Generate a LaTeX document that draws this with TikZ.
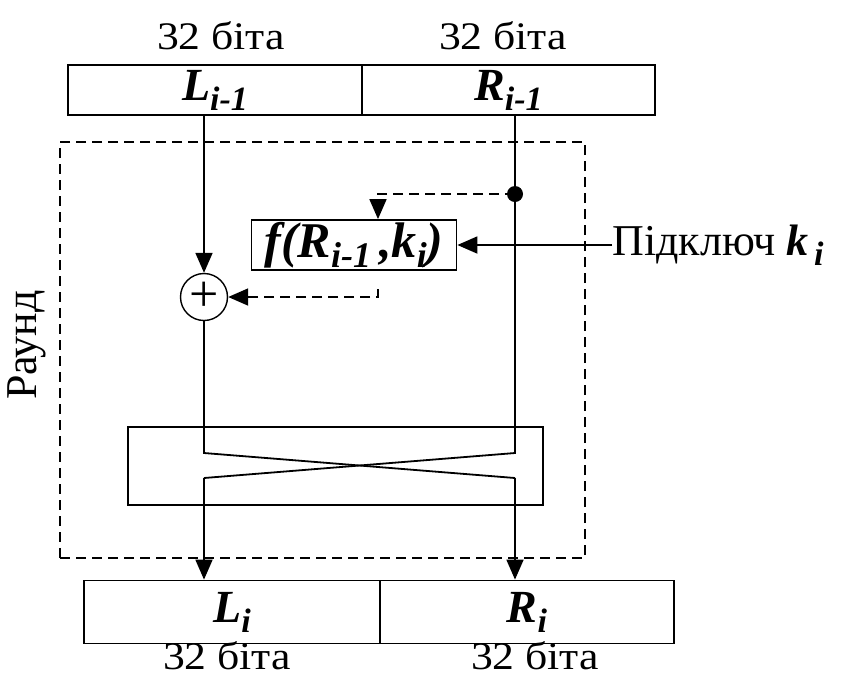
\documentclass[tikz,border=0pt]{standalone}
\usepackage{fontspec}
\setmainfont{Liberation Serif}
\newfontfamily\widefont[FakeStretch=1.12]{Liberation Serif}
\usetikzlibrary{arrows.meta,positioning}

\newcommand{\bsym}[2]{\textbf{\textit{#1\raisebox{-5pt}{\fontsize{17}{20}\selectfont #2}}}}

\begin{document}
\begin{tikzpicture}[
    x=0.5pt, y=-0.5pt,
    font=\fontsize{20}{24}\selectfont,
    lbl/.style={font=\fontsize{22}{26}\selectfont, inner sep=0pt},
    bits/.style={font=\widefont\fontsize{19.5}{24}\selectfont, inner sep=0pt, anchor=base},
    cell/.style={rectangle, draw, line width=0.9pt, inner sep=0pt,
                 font=\fontsize{23}{26}\selectfont},
    wire/.style={line width=0.9pt},
    line/.style={-{Triangle[length=10pt, width=8.5pt]}, line width=0.9pt},
    dline/.style={line, dashed, dash pattern=on 5pt off 3pt}
]
  \useasboundingbox (0,0) rectangle (841,677);

  % round frame
  \node[draw, dashed, dash pattern=on 5pt off 3pt, line width=0.7pt,
        minimum width=262.5pt, minimum height=208pt] (round) at (322.5,350) {};
  \node[lbl, rotate=90] (roundlbl) at (27,345) {Раунд};

  % input halves
  \node[cell, minimum width=147pt, minimum height=25pt] (Lprev) at (215,90) {\bsym{L}{i-1}};
  \node[cell, minimum width=146.5pt, minimum height=25pt] (Rprev) at (508.5,90) {\bsym{R}{i-1}};
  \node[bits] (bitsLt) at (221,49) {32 біта};
  \node[bits] (bitsRt) at (503,49) {32 біта};

  % output halves
  \node[cell, minimum width=148pt, minimum height=31.5pt] (Lnext) at (232,612) {\bsym{L}{i}};
  \node[cell, minimum width=147pt, minimum height=31.5pt] (Rnext) at (527,612) {\bsym{R}{i}};
  \node[bits] (bitsLb) at (227,669) {32 біта};
  \node[bits] (bitsRb) at (535,669) {32 біта};

  % round function and xor
  \node[cell, minimum width=102.5pt, minimum height=25pt,
        font=\fontsize{25}{28}\selectfont] (fbox) at (354,245)
       {\textbf{\textit{f(R\raisebox{-5pt}{\fontsize{18}{20}\selectfont i-1}\,,k\raisebox{-5pt}{\fontsize{18}{20}\selectfont i})}}};
  \node[circle, draw, line width=0.7pt, minimum size=23.5pt, inner sep=0pt,
        font=\fontsize{26}{28}\selectfont] (xor) at (204,297) {+};
  \node[anchor=west, lbl] (key) at (612,245) {Підключ \bsym{k}{\,i}};

  % swap block
  \node[draw, line width=0.7pt, minimum width=207.5pt, minimum height=39pt] (swap) at (335.5,466) {};

  \coordinate (split) at (515,194);
  \coordinate (tap) at (378,194);
  \coordinate (fout) at (378,289);
  \coordinate (xl1) at (204,453);
  \coordinate (xl2) at (204,478);
  \coordinate (xr1) at (515,453);
  \coordinate (xr2) at (515,478);

  \draw[line] (xor.north |- Lprev.south) -- (xor.north);
  \draw[wire] (split |- Rprev.south) -- (split);
  \fill (split) circle (4pt);
  \draw[dline] (split) -- (tap) -- (tap |- fbox.north);
  \draw[dline] (fout) |- (xor.east);
  \draw[line] (key.west) -- (fbox.east);

  \draw[wire] (split) -- (xr1) -- (xl2);
  \draw[line] (xl2) -- (xl2 |- Lnext.north);
  \draw[wire] (xor.south) -- (xl1) -- (xr2);
  \draw[line] (xr2) -- (xr2 |- Rnext.north);
\end{tikzpicture}
\end{document}
